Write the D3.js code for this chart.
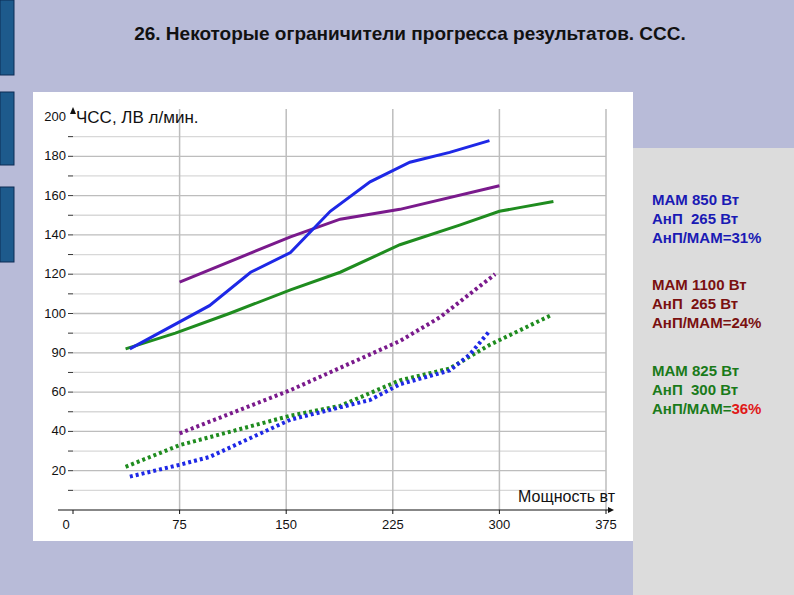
<!DOCTYPE html>
<html><head><meta charset="utf-8">
<script src="https://cdn.jsdelivr.net/npm/d3@7"></script>
<style>body{margin:0;background:#b8bbd8}svg{display:block;font-family:Arial,"Liberation Sans",sans-serif}text{white-space:pre}</style>
</head><body><svg id="c" width="794" height="595"></svg>
<script>
const yTicks = [20, 40, 60, 80, 100, 120, 140, 160, 180, 200];
const yTickLabels = ["20", "40", "60", "90", "100", "120", "140", "160", "180", "200"];
const xTicks = [0, 75, 150, 225, 300, 375];

const blueSolid = [[40,82],[96,104],[125,121],[153,131],[181,152],[209,167],[237,177],[265,182],[293,188]];
const purpleSolid = [[75,116],[153,139],[188,148],[230,153],[300,165]];
const greenSolid = [[37,82],[72,90],[110,100],[153,112],[188,121],[230,135],[272,145],[300,152],[315,154],[338,157]];
const purpleDot = [[75,39],[153,61],[230,86],[258,98],[297,120]];
const greenDot = [[37,22],[75,33],[153,48],[188,53],[230,66],[265,72],[293,84],[336,99]];
const blueDot = [[40,17],[75,23],[96,27],[153,46],[181,51],[209,56],[230,64],[265,71],[279,79],[293,91]];

const series = [
  {d: purpleSolid, c: "#7a1a8c", dash: null},
  {d: greenSolid, c: "#1f8c1f", dash: null},
  {d: blueSolid, c: "#1e28e6", dash: null},
  {d: purpleDot, c: "#7a1a8c", dash: "3,3"},
  {d: greenDot, c: "#1f8c1f", dash: "3,3"},
  {d: blueDot, c: "#1e28e6", dash: "3,3"}
];

const legend = [
  {y: 205, lines: [["MAM 850 Вт"], ["АнП  265 Вт"], ["АнП/МАМ=31%"]], c: "#1a1ab4"},
  {y: 290, lines: [["MAM 1100 Вт"], ["АнП  265 Вт"], ["АнП/МАМ=24%"]], c: "#7a1010"},
  {y: 376, lines: [["MAM 825 Вт"], ["АнП  300 Вт"], ["АнП/МАМ=", "36%"]], c: "#1a7a1a"}
];

const svg = d3.select("#c");
// slide decorations
svg.append("rect").attr("x", 0).attr("y", 0).attr("width", 794).attr("height", 595).attr("fill", "#b8bbd8");
[[0, 75], [92, 165], [187, 262]].forEach(([a, b]) =>
  svg.append("rect").attr("x", 0).attr("y", a).attr("width", 14).attr("height", b - a)
    .attr("fill", "#1d5a8c").attr("stroke", "#0d2d55"));
svg.append("text").attr("x", 410).attr("y", 40).attr("text-anchor", "middle")
  .attr("font-size", 19).attr("font-weight", "bold").attr("fill", "#111")
  .text("26. Некоторые ограничители прогресса результатов. ССС.");
svg.append("rect").attr("x", 633).attr("y", 148).attr("width", 161).attr("height", 447).attr("fill", "#dcdcdc");
svg.append("rect").attr("x", 33).attr("y", 92).attr("width", 600).attr("height", 449).attr("fill", "#fff");

const x = d3.scaleLinear().domain([0, 375]).range([73, 606]);
const y = d3.scaleLinear().domain([0, 200]).range([510, 117]);

const g = svg.append("g");
// grid
d3.range(10, 200, 10).forEach(v => {
  g.append("line").attr("x1", 73).attr("x2", 606).attr("y1", y(v)).attr("y2", y(v))
    .attr("stroke", v % 20 ? "#d8d8d8" : "#bdbdbd").attr("stroke-width", 1.3);
  g.append("line").attr("x1", 68).attr("x2", 73).attr("y1", y(v)).attr("y2", y(v)).attr("stroke", "#333");
});
xTicks.slice(1).forEach(v =>
  g.append("line").attr("x1", x(v)).attr("x2", x(v)).attr("y1", y(200) - 8).attr("y2", y(0))
    .attr("stroke", "#bdbdbd").attr("stroke-width", 1.5));

// axes
g.append("line").attr("x1", 58).attr("x2", 608).attr("y1", y(0)).attr("y2", y(0)).attr("stroke", "#111").attr("stroke-width", 1.2);
g.append("path").attr("d", `M608,${y(0) - 3}L614,${y(0)}L608,${y(0) + 3}Z`).attr("fill", "#111");
g.append("path").attr("d", `M73,${y(200) - 10}L70,${y(200) - 3}L76,${y(200) - 3}Z`).attr("fill", "#111");
xTicks.forEach(v => {
  g.append("line").attr("x1", x(v)).attr("x2", x(v)).attr("y1", y(0)).attr("y2", y(0) + 4).attr("stroke", "#111");
  g.append("text").attr("x", v === 0 ? 66 : x(v)).attr("y", y(0) + 19).attr("text-anchor", "middle")
    .attr("font-size", 13).attr("fill", "#111").text(v);
});
yTicks.forEach((v, i) =>
  g.append("text").attr("x", 66).attr("y", y(v) + 4).attr("text-anchor", "end")
    .attr("font-size", 13).attr("fill", "#111").text(yTickLabels[i]));
g.append("text").attr("x", 76).attr("y", y(200) + 6).attr("font-size", 17).attr("fill", "#111").text("ЧСС, ЛВ л/мин.");
g.append("text").attr("x", 615).attr("y", y(0) - 8).attr("text-anchor", "end").attr("font-size", 16).attr("fill", "#111").text("Мощность вт");

// series
const line = d3.line().x(d => x(d[0])).y(d => y(d[1]));
series.forEach(s =>
  g.append("path").datum(s.d).attr("d", line).attr("fill", "none").attr("stroke", s.c)
    .attr("stroke-width", s.dash ? 4 : 3).attr("stroke-dasharray", s.dash));

// legend text
legend.forEach(l => l.lines.forEach((parts, i) => {
  const t = svg.append("text").attr("x", 652).attr("y", l.y + i * 19).attr("font-size", 15)
    .attr("font-weight", "bold").attr("fill", l.c);
  parts.forEach((p, j) => t.append("tspan").attr("fill", j ? "#e01818" : l.c).text(p));
}));
</script></body></html>
